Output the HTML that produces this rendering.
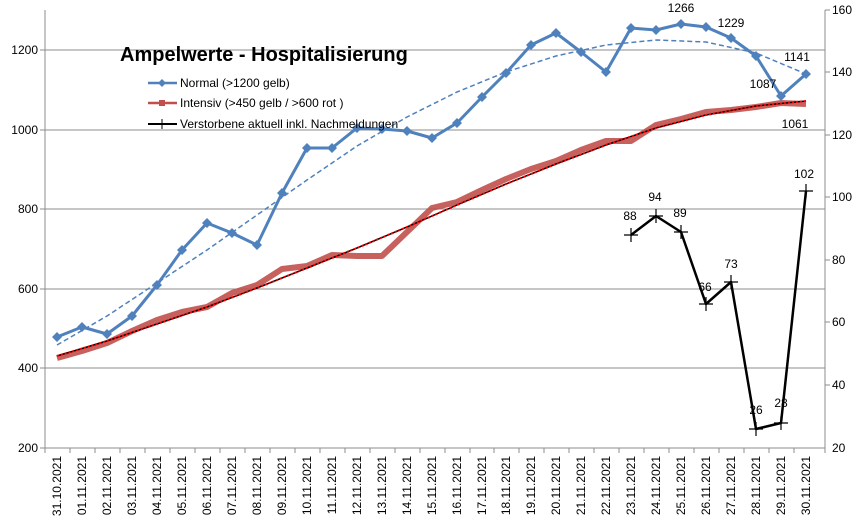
<!DOCTYPE html>
<html><head><meta charset="utf-8"><style>
body{margin:0;background:#fff}
svg{display:block;font-family:"Liberation Sans",sans-serif}
</style></head><body>
<svg width="868" height="519" viewBox="0 0 868 519" xmlns="http://www.w3.org/2000/svg">
<rect width="868" height="519" fill="#fff"/>
<g stroke="#8c8c8c" stroke-width="1">
<line x1="45" y1="50" x2="825" y2="50"/>
<line x1="45" y1="130" x2="825" y2="130"/>
<line x1="45" y1="209" x2="825" y2="209"/>
<line x1="45" y1="289" x2="825" y2="289"/>
<line x1="45" y1="368" x2="825" y2="368"/>
<line x1="45" y1="448" x2="825" y2="448"/>
<line x1="45" y1="10" x2="45" y2="448"/>
<line x1="825" y1="10" x2="825" y2="448"/>
<line x1="40" y1="50" x2="45" y2="50"/><line x1="40" y1="130" x2="45" y2="130"/><line x1="40" y1="209" x2="45" y2="209"/><line x1="40" y1="289" x2="45" y2="289"/><line x1="40" y1="368" x2="45" y2="368"/><line x1="40" y1="448" x2="45" y2="448"/>
<line x1="825" y1="10" x2="830" y2="10"/><line x1="825" y1="72" x2="830" y2="72"/><line x1="825" y1="135" x2="830" y2="135"/><line x1="825" y1="197" x2="830" y2="197"/><line x1="825" y1="260" x2="830" y2="260"/><line x1="825" y1="322" x2="830" y2="322"/><line x1="825" y1="385" x2="830" y2="385"/>
</g>
<g stroke="#8c8c8c" stroke-width="1">
<path d="M45 448v5M70 448v5M95 448v5M120 448v5M145 448v5M170 448v5M195 448v5M220 448v5M245 448v5M270 448v5M295 448v5M320 448v5M345 448v5M370 448v5M395 448v5M420 448v5M445 448v5M470 448v5M494 448v5M519 448v5M544 448v5M569 448v5M594 448v5M619 448v5M644 448v5M669 448v5M694 448v5M719 448v5M744 448v5M769 448v5M794 448v5M825 448v5"/>
</g>
<g font-size="12" fill="#000" text-anchor="end">
<text x="38" y="54">1200</text><text x="38" y="134">1000</text><text x="38" y="213">800</text><text x="38" y="293">600</text><text x="38" y="372">400</text><text x="38" y="452">200</text>
</g>
<g font-size="12" fill="#000">
<text x="832" y="14">160</text><text x="832" y="76">140</text><text x="832" y="139">120</text><text x="832" y="201">100</text><text x="832" y="264">80</text><text x="832" y="326">60</text><text x="832" y="389">40</text><text x="832" y="452">20</text>
</g>
<g font-size="12" fill="#000" text-anchor="end">
<text transform="translate(61,456) rotate(-90)">31.10.2021</text>
<text transform="translate(86,456) rotate(-90)">01.11.2021</text>
<text transform="translate(111,456) rotate(-90)">02.11.2021</text>
<text transform="translate(136,456) rotate(-90)">03.11.2021</text>
<text transform="translate(161,456) rotate(-90)">04.11.2021</text>
<text transform="translate(186,456) rotate(-90)">05.11.2021</text>
<text transform="translate(211,456) rotate(-90)">06.11.2021</text>
<text transform="translate(236,456) rotate(-90)">07.11.2021</text>
<text transform="translate(261,456) rotate(-90)">08.11.2021</text>
<text transform="translate(286,456) rotate(-90)">09.11.2021</text>
<text transform="translate(311,456) rotate(-90)">10.11.2021</text>
<text transform="translate(336,456) rotate(-90)">11.11.2021</text>
<text transform="translate(361,456) rotate(-90)">12.11.2021</text>
<text transform="translate(386,456) rotate(-90)">13.11.2021</text>
<text transform="translate(411,456) rotate(-90)">14.11.2021</text>
<text transform="translate(436,456) rotate(-90)">15.11.2021</text>
<text transform="translate(461,456) rotate(-90)">16.11.2021</text>
<text transform="translate(486,456) rotate(-90)">17.11.2021</text>
<text transform="translate(510,456) rotate(-90)">18.11.2021</text>
<text transform="translate(535,456) rotate(-90)">19.11.2021</text>
<text transform="translate(560,456) rotate(-90)">20.11.2021</text>
<text transform="translate(585,456) rotate(-90)">21.11.2021</text>
<text transform="translate(610,456) rotate(-90)">22.11.2021</text>
<text transform="translate(635,456) rotate(-90)">23.11.2021</text>
<text transform="translate(660,456) rotate(-90)">24.11.2021</text>
<text transform="translate(685,456) rotate(-90)">25.11.2021</text>
<text transform="translate(710,456) rotate(-90)">26.11.2021</text>
<text transform="translate(735,456) rotate(-90)">27.11.2021</text>
<text transform="translate(760,456) rotate(-90)">28.11.2021</text>
<text transform="translate(785,456) rotate(-90)">29.11.2021</text>
<text transform="translate(810,456) rotate(-90)">30.11.2021</text>
</g>
<!-- Intensiv -->
<polyline fill="none" stroke="#c0504d" stroke-width="6" stroke-linejoin="round" stroke-opacity="0.9" points="57,358 82,351 107,343 132,331 157,320 182,312 207,307 232,293 257,285 282,269 307,266 332,255 357,256 382,256 407,232 432,208 457,202 482,190 506,179 531,169 556,161 581,150 606,141 631,141 656,125 681,119 706,112 731,110 756,107 781,103 806,104"/>
<polyline fill="none" stroke="#000" stroke-width="1.5" stroke-linejoin="round" points="57,356 107,341 157,324 207,307 257,288 307,268 357,248 407,227 457,205 506,184 556,164 606,145 656,128 706,115 756,106 806,101"/>
<polyline fill="none" stroke="#ff0000" stroke-width="2" stroke-dasharray="2,2" stroke-linejoin="round" points="57,356 107,341 157,324 207,307 257,288 307,268 357,248 407,227 457,205 506,184 556,164 606,145 656,128 706,115 756,106 806,101"/>
<!-- Normal -->
<polyline fill="none" stroke="#4f81bd" stroke-width="1.5" stroke-dasharray="5,3" stroke-linejoin="round" points="57,345 107,316 157,283 207,250 257,215 307,180 357,146 407,117 457,92 506,72 556,56 606,45 656,40 706,42 756,53 806,74"/>
<polyline fill="none" stroke="#4f81bd" stroke-width="3" stroke-linejoin="round" points="57,337 82,327 107,334 132,316 157,285 182,250 207,223 232,233 257,245 282,193 307,148 332,148 357,128 382,129 407,131 432,138 457,123 482,97 506,73 531,45 556,33 581,52 606,72 631,28 656,30 681,24 706,27 731,38 756,56 781,96 806,74"/>
<g fill="#4f81bd">
<path d="M57 332l5 5-5 5-5-5zM82 322l5 5-5 5-5-5zM107 329l5 5-5 5-5-5zM132 311l5 5-5 5-5-5zM157 280l5 5-5 5-5-5zM182 245l5 5-5 5-5-5zM207 218l5 5-5 5-5-5zM232 228l5 5-5 5-5-5zM257 240l5 5-5 5-5-5zM282 188l5 5-5 5-5-5zM307 143l5 5-5 5-5-5zM332 143l5 5-5 5-5-5zM357 123l5 5-5 5-5-5zM382 124l5 5-5 5-5-5zM407 126l5 5-5 5-5-5zM432 133l5 5-5 5-5-5zM457 118l5 5-5 5-5-5zM482 92l5 5-5 5-5-5zM506 68l5 5-5 5-5-5zM531 40l5 5-5 5-5-5zM556 28l5 5-5 5-5-5zM581 47l5 5-5 5-5-5zM606 67l5 5-5 5-5-5zM631 23l5 5-5 5-5-5zM656 25l5 5-5 5-5-5zM681 19l5 5-5 5-5-5zM706 22l5 5-5 5-5-5zM731 33l5 5-5 5-5-5zM756 51l5 5-5 5-5-5zM781 91l5 5-5 5-5-5zM806 69l5 5-5 5-5-5z"/>
</g>
<!-- Verstorbene -->
<polyline fill="none" stroke="#000" stroke-width="2.5" stroke-linejoin="round" points="631,235 656,216 681,232 706,304 731,282 756,429 781,423 806,191"/>
<g stroke="#000" stroke-width="1.2">
<path d="M624 235h14M631 228v14M649 216h14M656 209v14M674 232h14M681 225v14M699 304h14M706 297v14M724 282h14M731 275v14M749 429h14M756 422v14M774 423h14M781 416v14M799 191h14M806 184v14"/>
</g>
<g font-size="12" fill="#000" text-anchor="middle">
<text x="681" y="12">1266</text><text x="731" y="27">1229</text><text x="763" y="88">1087</text><text x="797" y="61">1141</text><text x="795" y="128">1061</text>
<text x="630" y="220">88</text><text x="655" y="201">94</text><text x="680" y="217">89</text><text x="705" y="291">66</text><text x="731" y="268">73</text><text x="756" y="414">26</text><text x="781" y="407">28</text><text x="804" y="178">102</text>
</g>
<text x="120" y="61" font-size="20" font-weight="bold" fill="#000">Ampelwerte - Hospitalisierung</text>
<g font-size="12" fill="#000">
<line x1="148" y1="83" x2="177" y2="83" stroke="#4f81bd" stroke-width="2.5"/><path d="M162 79l4 4-4 4-4-4z" fill="#4f81bd"/>
<text x="180" y="87">Normal (&gt;1200 gelb)</text>
<line x1="148" y1="103" x2="177" y2="103" stroke="#c0504d" stroke-width="2.5"/><rect x="159" y="100" width="6" height="6" fill="#c0504d"/>
<text x="180" y="107">Intensiv (&gt;450 gelb / &gt;600 rot )</text>
<line x1="148" y1="124" x2="177" y2="124" stroke="#000" stroke-width="2"/><line x1="162" y1="119" x2="162" y2="129" stroke="#000"/>
<text x="180" y="128">Verstorbene aktuell inkl. Nachmeldungen</text>
</g>
</svg>
</body></html>
